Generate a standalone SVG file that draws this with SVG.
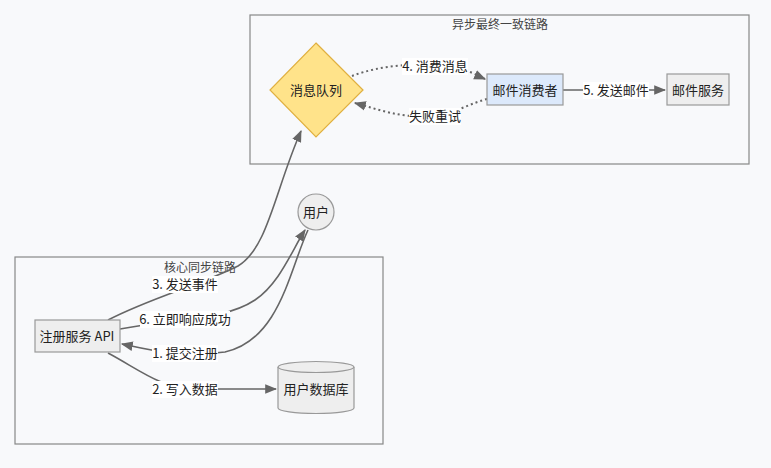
<svg xmlns="http://www.w3.org/2000/svg" width="771" height="468" viewBox="0 0 771 468">
<defs>
<style>
text{font-family:"Noto Sans CJK SC","Noto Sans",sans-serif;font-size:13px;fill:#222;}
.title{font-size:12px;fill:#444;}
.cluster{fill:#f8f9fb;stroke:#888;stroke-width:1.2;}
.box{fill:#eeeeee;stroke:#999;stroke-width:1.2;}
.edge{fill:none;stroke:#666;stroke-width:1.6;}
.dot{stroke-dasharray:2 3;stroke-width:2;}
.lbl{fill:#ffffff;}
</style>
<marker id="ahb" viewBox="0 0 10 10" refX="9" refY="5" markerWidth="12" markerHeight="12" markerUnits="userSpaceOnUse" orient="auto"><path d="M0,1 L10,5 L0,9 z" fill="#666"/></marker>
</defs>
<rect width="771" height="468" fill="#f8f9fb"/>
<g id="cluster-async">
<rect class="cluster" x="250" y="15" width="499" height="149"/>
<text class="title" x="500" y="29" text-anchor="middle">异步最终一致链路</text>
</g>
<g id="cluster-core">
<rect class="cluster" x="15" y="257" width="368" height="187"/>
<text class="title" x="200" y="272" text-anchor="middle">核心同步链路</text>
</g>
<g id="connectors">
<path class="edge" d="M108,320 C150,298 200,285 238,266 C268,248 275,190 301,131" marker-end="url(#ahb)"/>
<path class="edge" d="M120,329 C180,318 225,320 255,300 C280,283 292,250 305,230" marker-end="url(#ahb)"/>
<path class="edge" d="M308,230 C290,268 280,340 225,352 C180,358 150,350 122,344" marker-end="url(#ahb)"/>
<path class="edge" d="M108,353 C140,370 160,388 195,389 L276,389" marker-end="url(#ahb)"/>
<path class="edge dot" d="M352,76 C380,65 420,62 450,67 C470,70 478,76 485,79" marker-end="url(#ahb)"/>
<path class="edge dot" d="M487,99 C465,105 455,114 430,116 C400,118 380,110 355,103" marker-end="url(#ahb)"/>
<path class="edge" d="M563,90 L665,90" marker-end="url(#ahb)"/>
<rect class="lbl" x="152" y="276" width="66" height="17"/>
<text x="185" y="289" text-anchor="middle">3. 发送事件</text>
<rect class="lbl" x="140" y="311" width="90" height="17"/>
<text x="185" y="324" text-anchor="middle">6. 立即响应成功</text>
<rect class="lbl" x="152" y="345" width="66" height="17"/>
<text x="185" y="358" text-anchor="middle">1. 提交注册</text>
<rect class="lbl" x="152" y="381" width="66" height="17"/>
<text x="185" y="394" text-anchor="middle">2. 写入数据</text>
<rect class="lbl" x="402" y="58" width="66" height="17"/>
<text x="435" y="71" text-anchor="middle">4. 消费消息</text>
<rect class="lbl" x="409" y="108" width="52" height="17"/>
<text x="435" y="121" text-anchor="middle">失败重试</text>
<rect class="lbl" x="583" y="82" width="66" height="17"/>
<text x="616" y="95" text-anchor="middle">5. 发送邮件</text>
</g>
<g id="node-mq">
<polygon points="316,43 363,90 316,137 270,90" fill="#ffe38a" stroke="#e0b040" stroke-width="1.2"/>
<text x="316" y="95" text-anchor="middle">消息队列</text>
</g>
<g id="node-consumer">
<rect x="487" y="74" width="76" height="31" fill="#dce9fb" stroke="#999" stroke-width="1.2"/>
<text x="525" y="95" text-anchor="middle">邮件消费者</text>
</g>
<g id="node-mail">
<rect class="box" x="667" y="74" width="62" height="31"/>
<text x="698" y="95" text-anchor="middle">邮件服务</text>
</g>
<g id="node-user">
<circle cx="316" cy="212" r="18" fill="#eeeeee" stroke="#999" stroke-width="1.2"/>
<text x="316" y="217" text-anchor="middle">用户</text>
</g>
<g id="node-api">
<rect class="box" x="35" y="320" width="85" height="32"/>
<text x="77" y="341" text-anchor="middle">注册服务 API</text>
</g>
<g id="node-db">
<path d="M278,367 L278,408 A38,5.5 0 0 0 354,408 L354,367" fill="#eeeeee" stroke="#999" stroke-width="1.2"/>
<ellipse cx="316" cy="367" rx="38" ry="5.5" fill="#eeeeee" stroke="#999" stroke-width="1.2"/>
<text x="316" y="394" text-anchor="middle">用户数据库</text>
</g>
</svg>
